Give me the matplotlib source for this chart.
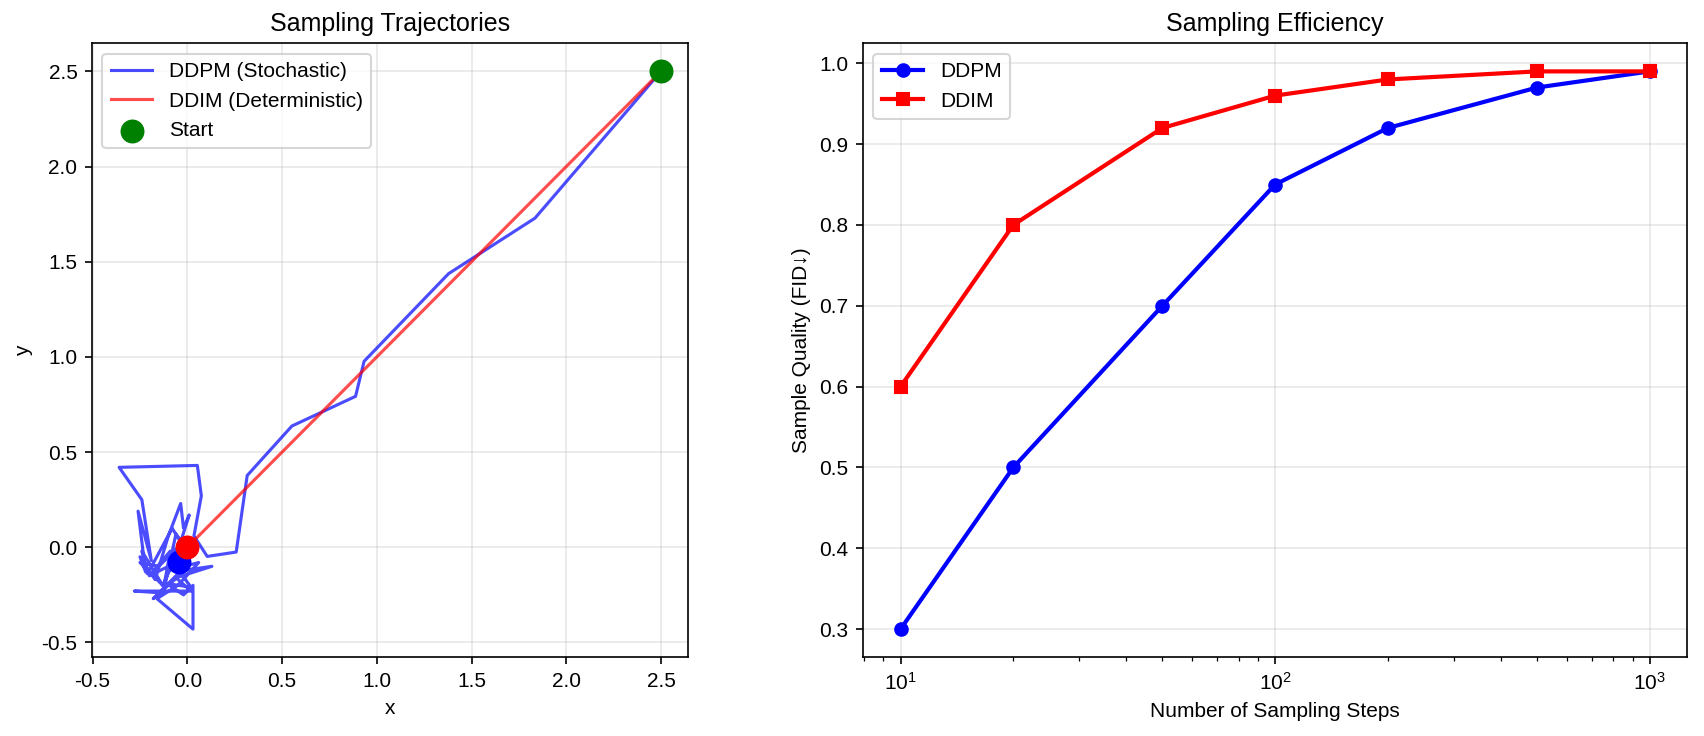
import numpy as np
import matplotlib
matplotlib.use("Agg")
import matplotlib.pyplot as plt

plt.rcParams['font.family'] = ['Liberation Sans', 'DejaVu Sans']
plt.rcParams['axes.unicode_minus'] = False

# left panel: reverse process paths
ddpm_x = [2.5, 1.835, 1.379, 0.933, 0.888, 0.552, 0.316, 0.258,
          0.105, 0.035, 0.074, 0.053, -0.36, -0.24, -0.19, -0.26,
          -0.22, -0.25, -0.17, -0.10, -0.035, -0.02, 0.01, -0.06,
          -0.13, -0.24, -0.21, -0.08, -0.03, -0.15, -0.25, -0.12,
          -0.06, 0.02, -0.20, -0.09, -0.13, -0.28, 0.02, -0.06,
          0.13, -0.01, -0.18, -0.04, 0.02, -0.11, -0.02, 0.03,
          0.03, -0.16, -0.05, 0.06, -0.09, -0.043]
ddpm_y = [2.5, 1.729, 1.4375, 0.977, 0.793, 0.637, 0.377, -0.025,
          -0.048, 0.06, 0.27, 0.43, 0.42, 0.25, -0.07, 0.19,
          -0.13, -0.05, -0.17, 0.06, 0.23, 0.10, 0.17, -0.05,
          -0.20, -0.02, -0.14, 0.10, 0.02, -0.10, -0.08, -0.21,
          0.07, -0.04, -0.15, -0.02, -0.24, -0.23, -0.23, -0.16,
          -0.10, -0.12, -0.27, -0.13, -0.21, -0.19, -0.25, -0.20,
          -0.43, -0.27, -0.20, -0.08, -0.12, -0.078]
ddim_x = [2.5, 0.0]
ddim_y = [2.5, 0.0]

# right panel: quality vs number of steps
steps = [10, 20, 50, 100, 200, 500, 1000]
ddpm_quality = [0.30, 0.50, 0.70, 0.85, 0.92, 0.97, 0.99]
ddim_quality = [0.60, 0.80, 0.92, 0.96, 0.98, 0.99, 0.99]

fig = plt.figure(figsize=(1704 / 150, 736 / 150), dpi=150)
ax1 = fig.add_axes([0.054, 0.1073, 0.3498, 0.8336])
ax2 = fig.add_axes([0.5065, 0.1073, 0.4836, 0.8336])

ax1.plot(ddpm_x, ddpm_y, color='blue', alpha=0.7, lw=1.5, label='DDPM (Stochastic)')
ax1.plot(ddim_x, ddim_y, color='red', alpha=0.7, lw=1.5, label='DDIM (Deterministic)')
ax1.scatter([ddpm_x[0]], [ddpm_y[0]], color='green', s=110, zorder=5, label='Start')
ax1.scatter([ddpm_x[-1]], [ddpm_y[-1]], color='blue', s=110, zorder=5)
ax1.scatter([ddim_x[-1]], [ddim_y[-1]], color='red', s=110, zorder=6)
ax1.set_xlabel('x')
ax1.set_ylabel('y')
ax1.set_title('Sampling Trajectories')
ax1.legend(loc='upper left')
ax1.grid(True, alpha=0.3)

ax2.semilogx(steps, ddpm_quality, 'o-', color='blue', lw=2, markersize=6, label='DDPM')
ax2.semilogx(steps, ddim_quality, 's-', color='red', lw=2, markersize=6, label='DDIM')
ax2.set_xlabel('Number of Sampling Steps')
ax2.set_ylabel('Sample Quality (FID\u2193)')
ax2.set_title('Sampling Efficiency')
ax2.legend(loc='upper left')
ax2.grid(True, alpha=0.3)

plt.savefig('out.png', dpi=150)
